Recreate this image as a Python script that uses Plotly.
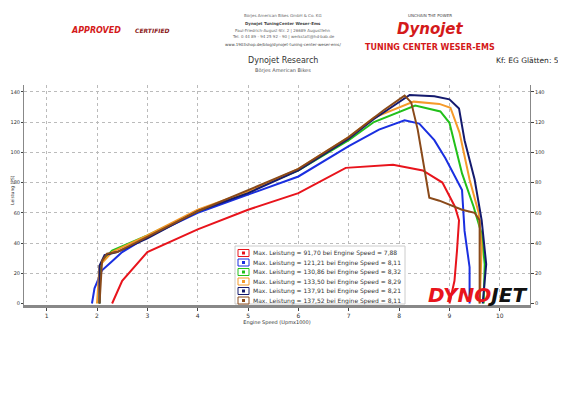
import plotly.graph_objects as go

# dyno runs: engine speed (rpm x1000) and power
red_x = [2.30, 2.50, 3.00, 4.00, 5.00, 6.00, 6.94, 7.88, 8.47, 8.86, 9.11, 9.19, 9.15, 9.10, 9.00]
red_y = [0, 15, 34, 49, 62, 73, 89.7, 91.7, 88, 80, 64, 55, 35, 15, 0]

blue_x = [1.90, 1.95, 2.05, 2.10, 2.30, 2.50, 3.00, 4.00, 5.00, 6.00, 7.00, 7.60, 8.11, 8.40, 8.70, 8.92, 9.25, 9.30, 9.40, 9.40]
blue_y = [0, 10, 18, 22, 28, 34, 44, 60, 72, 84, 104, 115, 121.2, 119, 108, 96, 75, 48, 24, 0]

green_x = [2.05, 2.05, 2.10, 2.30, 3.00, 4.00, 5.00, 6.00, 7.00, 7.50, 8.32, 8.82, 9.00, 9.25, 9.48, 9.64, 9.70, 9.68]
green_y = [0, 20, 28, 35, 45, 61, 74, 88, 108, 120, 130.9, 127, 119.5, 86, 64, 46, 26, 0]

orange_x = [2.00, 2.05, 2.30, 3.00, 4.00, 5.00, 6.00, 7.00, 7.50, 8.29, 8.80, 9.02, 9.20, 9.40, 9.58, 9.64, 9.60]
orange_y = [0, 25, 34, 45, 62, 74, 89, 110, 123, 133.5, 132, 129.5, 113, 82, 60, 37, 0]

navy_x = [2.05, 2.05, 2.15, 2.40, 3.00, 4.00, 5.00, 6.00, 7.00, 7.50, 8.21, 8.70, 9.00, 9.19, 9.30, 9.50, 9.64, 9.73, 9.66]
navy_y = [0, 25, 32, 34, 43, 61, 73, 88, 109, 122, 137.9, 137, 135, 129, 108, 82, 55, 26, 0]

brown_x = [2.05, 2.10, 2.20, 2.40, 3.00, 4.00, 5.00, 6.00, 7.00, 7.70, 8.11, 8.24, 8.37, 8.51, 8.60, 8.80, 9.25, 9.50, 9.60, 9.60]
brown_y = [0, 28, 33, 34, 44, 61, 75, 89, 110, 128, 137.5, 133, 115, 88, 70, 68, 62, 60, 55, 0]

runs = [
    (red_x, red_y, "#e8141c", "Max. Leistung = 91,70 bei Engine Speed = 7,88"),
    (blue_x, blue_y, "#1a2fe0", "Max. Leistung = 121,21 bei Engine Speed = 8,11"),
    (green_x, green_y, "#22c01a", "Max. Leistung = 130,86 bei Engine Speed = 8,32"),
    (orange_x, orange_y, "#f59a2a", "Max. Leistung = 133,50 bei Engine Speed = 8,29"),
    (navy_x, navy_y, "#141a6e", "Max. Leistung = 137,91 bei Engine Speed = 8,21"),
    (brown_x, brown_y, "#8a4a1a", "Max. Leistung = 137,52 bei Engine Speed = 8,11"),
]

fig = go.Figure()
for xs, ys, col, name in runs:
    fig.add_trace(go.Scatter(x=xs, y=ys, mode="lines", name=name,
                             line=dict(color=col, width=2)))
# right-side tick labels
fig.add_trace(go.Scatter(x=[None], y=[None], yaxis="y2", showlegend=False))

# page body has an 8px margin, so plot box is placed relative to that
L, T, W, H = 16, 77, 506, 220
OFF = 8

font = "DejaVu Sans"
fig.update_layout(
    width=566, height=400,
    margin=dict(l=L, r=566 - L - W, t=T, b=400 - T - H, autoexpand=False),
    paper_bgcolor="white", plot_bgcolor="white",
    font=dict(family=font, size=6, color="#333"),
    showlegend=False,
    xaxis=dict(range=[0.55, 10.6], dtick=1, showgrid=True, gridcolor="#bbb",
               griddash="dot", showline=True, linecolor="#888", linewidth=3,
               ticks="outside", ticklen=3, zeroline=False, automargin=False,
               title=dict(text="Engine Speed (Upmx1000)", font=dict(size=5), standoff=2)),
    yaxis=dict(range=[-1, 144.5], dtick=20, showgrid=True, gridcolor="#bbb",
               griddash="dot", zeroline=False, showline=True, linecolor="#888",
               ticks="outside", ticklen=2, automargin=False, tickfont=dict(size=5)),
    yaxis2=dict(range=[-1, 144.5], dtick=20, overlaying="y", side="right",
                showgrid=False, showline=True, linecolor="#888", ticks="outside",
                ticklen=3, automargin=False, tickfont=dict(size=5)),
)


def px2paper(px, py):
    return (px - OFF - L) / W, (T + H - (py - OFF)) / H


# legend box drawn by hand (plotly rows are too tall at this size)
lx0, ly0, lx1, ly1 = 235, 246, 405, 304
x0, y0 = px2paper(lx0, ly1)
x1, y1 = px2paper(lx1, ly0)
fig.add_shape(type="rect", xref="paper", yref="paper", x0=x0, y0=y0, x1=x1, y1=y1,
              fillcolor="white", line=dict(color="#ccc", width=1), layer="above")
for i, (_, _, col, name) in enumerate(runs):
    cy = 253 + i * 9.5
    bx0, by0 = px2paper(238, cy + 3.5)
    bx1, by1 = px2paper(249, cy - 3.5)
    fig.add_shape(type="rect", xref="paper", yref="paper", x0=bx0, y0=by0, x1=bx1, y1=by1,
                  fillcolor="white", line=dict(color=col, width=1), layer="above")
    sx0, sy0 = px2paper(242, cy + 1.5)
    sx1, sy1 = px2paper(245, cy - 1.5)
    fig.add_shape(type="rect", xref="paper", yref="paper", x0=sx0, y0=sy0, x1=sx1, y1=sy1,
                  fillcolor=col, line=dict(width=0), layer="above")
    tx, ty = px2paper(251, cy)
    fig.add_annotation(xref="paper", yref="paper", x=tx, y=ty, xanchor="left",
                       yanchor="middle", text=name, showarrow=False,
                       font=dict(family=font, size=6, color="#333"))

# y axis title
tx, ty = px2paper(12, 190)
fig.add_annotation(xref="paper", yref="paper", x=tx, y=ty, text="Leistung (PS)",
                   textangle=-90, showarrow=False, xanchor="center", yanchor="middle",
                   font=dict(family=font, size=4.5, color="#333"))

# (px, py, text, size, colour, anchor) in picture pixels
labels = [
    (283, 61, "Dynojet Research", 8, "#333", "center"),
    (283, 71, "Börjes American Bikes", 5, "#555", "center"),
    (283, 16, "Börjes American Bikes GmbH & Co. KG", 4, "#666", "center"),
    (283, 23, "<b>Dynojet TuningCenter Weser-Ems</b>", 4, "#444", "center"),
    (283, 30, "Paul-Friedrich-August-Str. 2 | 26689 Augustfehn", 4, "#666", "center"),
    (283, 37, "Tel. 0 44 89 - 94 25 92 - 90 | werkstatt@hd-bab.de", 4, "#666", "center"),
    (283, 44, "www.1903shop.de/blog/dynojet-tuning-center-weser-ems/", 4, "#444", "center"),
    (561, 61, "Kf: EG Glätten: 5", 7.5, "#222", "right"),
    (430, 16, "UNCHAIN THE POWER", 4, "#444", "center"),
    (430, 29, "<b><i>Dynojet</i></b>", 15, "#d41a1a", "center"),
    (430, 47, "<b>TUNING CENTER WESER-EMS</b>", 8, "#d41a1a", "center"),
    (96, 30, "<b><i>APPROVED</i></b>", 8, "#d41a1a", "center"),
    (152, 30, "<b><i>CERTIFIED</i></b>", 6, "#8a1a1a", "center"),
    (477, 295, "<b><i><span style='color:#e8141c'>DYNO</span>JET</i></b>", 20, "#111", "center"),
]
for px, py, text, size, col, anchor in labels:
    ax, ay = px2paper(px, py)
    fig.add_annotation(xref="paper", yref="paper", x=ax, xanchor=anchor,
                       y=ay, yanchor="middle", text=text, showarrow=False,
                       font=dict(family=font, size=size, color=col))

fig.write_html("out.html")
